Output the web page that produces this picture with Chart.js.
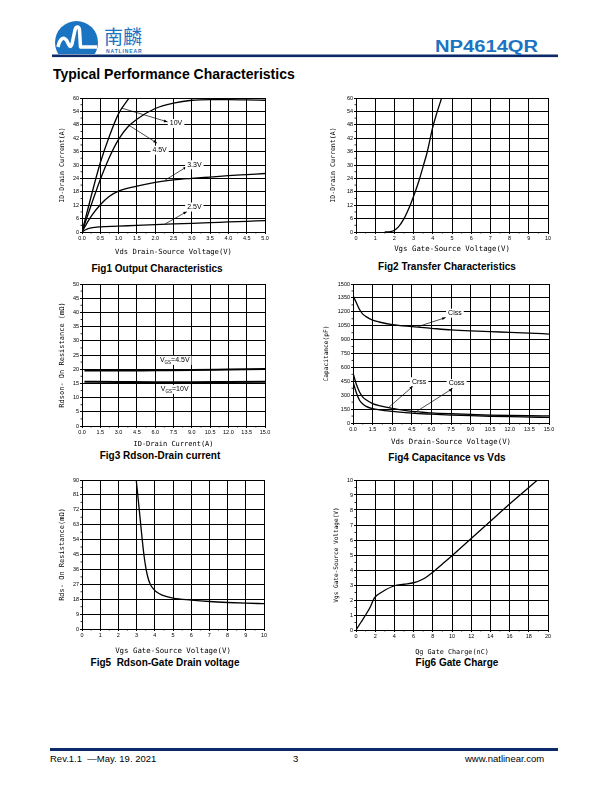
<!DOCTYPE html>
<html>
<head>
<meta charset="utf-8">
<script src="https://cdn.jsdelivr.net/npm/chart.js@4.4.1/dist/chart.umd.min.js"></script>
<style>
body { margin: 0; background: #fff; }
#page { position: relative; width: 612px; height: 792px; overflow: hidden; font-family: 'Liberation Sans', Arial, sans-serif; color: #000; }
.abs { position: absolute; white-space: nowrap; }
canvas { position: absolute; }
.cap { position: absolute; font-weight: bold; font-size: 10px; line-height: 12px; white-space: nowrap; transform: translateX(-50%); }
</style>
</head>
<body>
<div id="page">
  <svg class="abs" style="left:0;top:0" width="612" height="60">
    <defs><clipPath id="logoClip"><rect x="40" y="10" width="80" height="44"/></clipPath></defs>
    <circle cx="76.5" cy="42.5" r="21.5" fill="#1b74c2" clip-path="url(#logoClip)"/>
    <path d="M58 47 C60 38 64 36 67 41 C69 45 70 49 72 44 L75 30 C76 26 79 26 79.5 30 L80.5 47 L97 47" stroke="#fff" stroke-width="3.5" fill="none" stroke-linejoin="round"/>
    <rect x="52" y="54.5" width="506" height="2.6" fill="#0c2a6a"/>
  </svg>
  <div class="abs" style="left:104px;top:25px;font-family:'Noto Sans CJK SC';font-size:19px;line-height:22px;color:#1b74c2;">南麟</div>
  <div class="abs" style="left:106px;top:48px;font-size:5px;line-height:6px;font-weight:bold;letter-spacing:0.9px;color:#1b74c2;">NATLINEAR</div>
  <div class="abs" style="left:435px;top:38px;font-size:16px;line-height:18px;font-weight:bold;color:#1b74c2;transform:scaleX(1.26);transform-origin:left top;">NP4614QR</div>
  <div class="abs" style="left:53px;top:66px;font-size:14px;line-height:16px;font-weight:bold;">Typical Performance Characteristics</div>

  <div class="cap" style="left:157px;top:263px;">Fig1 Output Characteristics</div>
  <div class="cap" style="left:447px;top:261px;">Fig2 Transfer Characteristics</div>
  <div class="cap" style="left:160px;top:450px;">Fig3 Rdson-Drain current</div>
  <div class="cap" style="left:447px;top:452px;">Fig4 Capacitance vs Vds</div>
  <div class="cap" style="left:165px;top:657px;">Fig5&nbsp; Rdson-Gate Drain voltage</div>
  <div class="cap" style="left:457px;top:657px;">Fig6 Gate Charge</div>

  <div class="abs" style="left:50px;top:748px;width:508px;height:3px;background:#0c2a6a;"></div>
  <div class="abs" style="left:50px;top:753px;font-size:9.5px;line-height:11px;">Rev.1.1 &nbsp;—May. 19. 2021</div>
  <div class="abs" style="left:293px;top:753px;font-size:9.5px;line-height:11px;">3</div>
  <div class="abs" style="left:465px;top:753px;font-size:9.5px;line-height:11px;">www.natlinear.com</div>
</div>
<script>
// Fig1 output characteristics (Vds, Id) for each Vgs
const vds10 = [0, 0.25, 0.5, 0.75, 1.0, 1.2, 1.4];
const id10 = [0, 16, 31, 43, 53, 58, 62.5];
const vds45 = [0, 0.25, 0.5, 0.75, 1.0, 1.25, 1.5, 2.0, 2.5, 3.0, 3.5, 4.0, 4.5, 5.0];
const id45 = [0, 12, 23.5, 33.5, 41.5, 47, 50.5, 55.3, 57.7, 59, 59.3, 59.3, 59.2, 59];
const vds33 = [0, 0.1, 0.25, 0.5, 0.75, 1.0, 1.5, 2.0, 2.5, 3.0, 3.5, 4.0, 4.5, 5.0];
const id33 = [0, 3, 7, 12.2, 16, 18.3, 20.5, 22.2, 23.3, 24.0, 24.6, 25.2, 25.7, 26.2];
const vds25 = [0, 0.1, 0.25, 0.5, 1.0, 1.5, 2.0, 2.5, 3.0, 3.5, 4.0, 4.5, 5.0];
const id25 = [0, 1.0, 1.8, 2.3, 2.6, 3.0, 3.3, 3.6, 3.9, 4.2, 4.5, 4.8, 5.1];

// Fig2 transfer
const vgsT = [1.5, 1.8, 2.0, 2.2, 2.5, 2.8, 3.0, 3.3, 3.5, 3.7, 4.0, 4.2, 4.5];
const idT = [0, 0.2, 0.8, 2.2, 6, 11.5, 16, 23.5, 29.5, 35.5, 47, 53, 61];

// Fig3 Rdson vs Id
const idR = [0.2, 3, 6, 9, 12, 15];
const rds45 = [19.5, 19.5, 19.6, 19.7, 19.9, 20.1];
const rds10 = [15.6, 15.5, 15.4, 15.4, 15.5, 15.6];

// Fig4 capacitance
const vdsC = [0, 0.25, 0.5, 0.75, 1.0, 1.5, 2.0, 3.0, 4.5, 6.0, 7.5, 9.0, 10.5, 12.0, 13.5, 15.0];
const ciss = [1375, 1300, 1225, 1175, 1148, 1110, 1090, 1062, 1040, 1022, 1005, 994, 986, 978, 970, 960];
const crss = [540, 420, 335, 280, 250, 210, 188, 158, 125, 110, 100, 92, 86, 81, 78, 76];
const coss = [445, 330, 245, 205, 180, 155, 142, 125, 106, 95, 86, 79, 73, 68, 64, 60];

// Fig5 Rdson vs Vgs
const vgsR = [2.98, 3.1, 3.2, 3.3, 3.4, 3.5, 3.6, 3.75, 3.9, 4.1, 4.4, 5.0, 6.0, 7.0, 8.0, 9.0, 10.0];
const rdsV = [90, 77, 66, 55, 45, 37.5, 32, 27, 24.5, 22.3, 20.5, 18.7, 17.5, 16.6, 16.0, 15.6, 15.3];

// Fig6 gate charge
const qg = [0, 0.5, 1.0, 1.5, 1.8, 2.0, 2.5, 3.0, 4.0, 5.0, 6.0, 7.0, 8.0, 9.0, 10.0, 12.0, 14.0, 16.0, 18.0, 18.9];
const vgsQ = [0, 0.5, 1.0, 1.55, 2.0, 2.2, 2.45, 2.65, 2.95, 3.05, 3.15, 3.4, 3.85, 4.4, 4.95, 6.1, 7.25, 8.4, 9.5, 10];

// tick labels
const fig1XTicks = ['0.0','0.5','1.0','1.5','2.0','2.5','3.0','3.5','4.0','4.5','5.0'];
const fig1YTicks = ['0','6','12','18','24','30','36','42','48','54','60'];
const fig2XTicks = ['0','1','2','3','4','5','6','7','8','9','10'];
const fig2YTicks = fig1YTicks;
const fig3XTicks = ['0.0','1.5','3.0','4.5','6.0','7.5','9.0','10.5','12.0','13.5','15.0'];
const fig3YTicks = ['0','5','10','15','20','25','30','35','40','45','50'];
const fig4XTicks = fig3XTicks;
const fig4YTicks = ['0','150','300','450','600','750','900','1050','1200','1350','1500'];
const fig5XTicks = fig2XTicks;
const fig5YTicks = ['0','9','18','27','36','45','54','63','72','81','90'];
const fig6XTicks = ['0','2','4','6','8','10','12','14','16','18','20'];
const fig6YTicks = ['0','1','2','3','4','5','6','7','8','9','10'];

const page = document.getElementById('page');
const tickFont = { family: "'Liberation Sans', Arial, sans-serif", size: 5.5 };
const monoFamily = "'DejaVu Sans Mono', monospace";

function pts(xs, ys) { return xs.map((x, i) => ({ x: x, y: ys[i] })); }
function curve(xs, ys, w) {
  return { data: pts(xs, ys), showLine: true, borderColor: '#000', borderWidth: w || 1.3,
    pointRadius: 0, cubicInterpolationMode: 'monotone', fill: false };
}

const notesPlugin = {
  id: 'notes',
  afterDatasetsDraw(chart, args, o) {
    const ctx = chart.ctx, xs = chart.scales.x, ys = chart.scales.y;
    const px = v => xs.getPixelForValue(v), py = v => ys.getPixelForValue(v);
    const a = chart.chartArea;
    ctx.save();
    ctx.strokeStyle = '#000';
    ctx.fillStyle = '#000';
    ctx.lineWidth = 0.8;
    // minor ticks
    if (o.minorX) {
      for (let v = xs.min + o.minorX; v < xs.max; v += o.minorX * 2) {
        const x = px(v);
        ctx.beginPath(); ctx.moveTo(x, a.bottom); ctx.lineTo(x, a.bottom + 1.5); ctx.stroke();
      }
    }
    if (o.minorY) {
      for (let v = ys.min + o.minorY; v < ys.max; v += o.minorY * 2) {
        const y = py(v);
        ctx.beginPath(); ctx.moveTo(a.left, y); ctx.lineTo(a.left - 1.5, y); ctx.stroke();
      }
    }
    (o.items || []).forEach(n => {
      if (n.from) {
        const x1 = px(n.from[0]), y1 = py(n.from[1]), x2 = px(n.to[0]), y2 = py(n.to[1]);
        ctx.lineWidth = 0.7;
        ctx.beginPath(); ctx.moveTo(x1, y1); ctx.lineTo(x2, y2); ctx.stroke();
        const ang = Math.atan2(y2 - y1, x2 - x1);
        ctx.beginPath();
        ctx.moveTo(x2, y2);
        ctx.lineTo(x2 - 4 * Math.cos(ang - 0.35), y2 - 4 * Math.sin(ang - 0.35));
        ctx.lineTo(x2 - 4 * Math.cos(ang + 0.35), y2 - 4 * Math.sin(ang + 0.35));
        ctx.closePath(); ctx.fill();
      }
      const parts = n.parts || [[n.text, 0]];
      const big = "7px 'Liberation Sans', Arial, sans-serif", small = "4.5px 'Liberation Sans', Arial, sans-serif";
      let w = 0;
      parts.forEach(p => { ctx.font = p[1] ? small : big; w += ctx.measureText(p[0]).width; });
      const cx = px(n.at[0]), cy = py(n.at[1]);
      ctx.fillStyle = '#fff';
      ctx.fillRect(cx - w / 2 - 2, cy - 4.5, w + 4, 9);
      ctx.fillStyle = '#000';
      ctx.textBaseline = 'middle';
      ctx.textAlign = 'left';
      let x = cx - w / 2;
      parts.forEach(p => {
        ctx.font = p[1] ? small : big;
        ctx.fillText(p[0], x, cy + (p[1] ? 2.5 : 0));
        x += ctx.measureText(p[0]).width;
      });
    });
    ctx.restore();
  }
};

function axis(labels, title, size, fitFn) {
  return {
    type: 'linear',
    min: parseFloat(labels[0]),
    max: parseFloat(labels[labels.length - 1]),
    afterBuildTicks: s => { s.ticks = labels.map(t => ({ value: parseFloat(t) })); },
    ticks: { autoSkip: false, maxRotation: 0, padding: 1, color: '#000', font: tickFont,
      callback: (v, i) => labels[i] },
    grid: { color: '#000', lineWidth: 1, tickLength: 2, drawTicks: true },
    border: { color: '#000', width: 1 },
    title: { display: true, text: title, color: '#000', padding: 0, font: { family: monoFamily, size: size } },
    afterFit: fitFn
  };
}

function makeChart(box, o) {
  const padTop = 6;
  const yLh = o.yTitleSize * 1.2, xLh = o.xTitleSize * 1.2;
  const yw = Math.round(box.l - (o.yTitleX - yLh / 2));
  const xh = Math.round((o.xTitleY + xLh / 2) - box.b);
  const w = Math.ceil(yw + (box.r - box.l) + 12);
  const h = Math.round(padTop + (box.b - box.t) + xh);
  const padRight = w - yw - (box.r - box.l);
  const cv = document.createElement('canvas');
  cv.width = w; cv.height = h;
  cv.style.left = (box.l - yw) + 'px';
  cv.style.top = (box.t - padTop) + 'px';
  cv.style.width = w + 'px'; cv.style.height = h + 'px';
  page.appendChild(cv);
  return new Chart(cv, {
    type: 'scatter',
    data: { datasets: o.datasets },
    plugins: [notesPlugin],
    options: {
      responsive: false,
      animation: false,
      layout: { padding: { top: padTop, right: padRight, left: 0, bottom: 0 } },
      scales: {
        x: axis(o.xTicks, o.xTitle, o.xTitleSize, s => { s.height = xh; s.paddingLeft = 0; s.paddingRight = 0; }),
        y: axis(o.yTicks, o.yTitle, o.yTitleSize, s => { s.width = yw; s.paddingTop = 0; s.paddingBottom = 0; })
      },
      plugins: {
        legend: { display: false },
        tooltip: { enabled: false },
        notes: { items: o.notes || [], minorX: o.minorX, minorY: o.minorY }
      }
    }
  });
}

// Fig1
makeChart({ l: 82, t: 98, r: 265, b: 232 }, {
  xTicks: fig1XTicks, yTicks: fig1YTicks,
  xTitle: 'Vds Drain-Source Voltage(V)', xTitleSize: 7.2, xTitleY: 252,
  yTitle: 'ID-Drain Current(A)', yTitleSize: 6.6, yTitleX: 62,
  minorX: 0.25, minorY: 3,
  datasets: [curve(vds10, id10), curve(vds45, id45), curve(vds33, id33), curve(vds25, id25)],
  notes: [
    { text: '10V', at: [2.57, 48.6], from: [1.08, 55.5], to: [2.34, 49.3] },
    { text: '4.5V', at: [2.12, 36.6], from: [1.28, 47.8], to: [2.05, 39.8] },
    { text: '3.3V', at: [3.07, 30.1], from: [2.27, 23.2], to: [2.87, 29.3] },
    { text: '2.5V', at: [3.07, 11.2], from: [2.27, 3.6], to: [2.87, 9.2] }
  ]
});

// Fig2
makeChart({ l: 356, t: 98, r: 548, b: 232 }, {
  xTicks: fig2XTicks, yTicks: fig2YTicks,
  xTitle: 'Vgs Gate-Source Voltage(V)', xTitleSize: 7.4, xTitleY: 250,
  yTitle: 'ID-Drain Current(A)', yTitleSize: 6.6, yTitleX: 333,
  minorX: 0.5, minorY: 3,
  datasets: [curve(vgsT, idT)]
});

// Fig3
makeChart({ l: 82, t: 284, r: 265, b: 426 }, {
  xTicks: fig3XTicks, yTicks: fig3YTicks,
  xTitle: 'ID-Drain Current(A)', xTitleSize: 7, xTitleY: 444,
  yTitle: 'Rdson- On Resistance (mΩ)', yTitleSize: 7, yTitleX: 62,
  minorX: 0.75, minorY: 2.5,
  datasets: [curve(idR, rds45, 2), curve(idR, rds10, 2)],
  notes: [
    { parts: [['V', 0], ['GS', 1], ['=4.5V', 0]], at: [7.6, 23.1] },
    { parts: [['V', 0], ['GS', 1], ['=10V', 0]], at: [7.6, 12.9] }
  ]
});

// Fig4
makeChart({ l: 353, t: 284, r: 549, b: 423 }, {
  xTicks: fig4XTicks, yTicks: fig4YTicks,
  xTitle: 'Vds Drain-Source Voltage(V)', xTitleSize: 7.4, xTitleY: 443,
  yTitle: 'Capacitance(pF)', yTitleSize: 6.2, yTitleX: 327,
  minorX: 0.75, minorY: 75,
  datasets: [curve(vdsC, ciss), curve(vdsC, crss), curve(vdsC, coss)],
  notes: [
    { text: 'Ciss', at: [7.8, 1185], from: [5.0, 1041], to: [7.1, 1138] },
    { text: 'Crss', at: [5.06, 445], from: [2.69, 163], to: [4.6, 398] },
    { text: 'Coss', at: [7.93, 426], from: [4.6, 101], to: [7.62, 372] }
  ]
});

// Fig5
makeChart({ l: 82, t: 480, r: 264, b: 629 }, {
  xTicks: fig5XTicks, yTicks: fig5YTicks,
  xTitle: 'Vgs Gate-Source Voltage(V)', xTitleSize: 7.4, xTitleY: 652,
  yTitle: 'Rds- On Resistance(mΩ)', yTitleSize: 7, yTitleX: 62,
  minorX: 0.5, minorY: 4.5,
  datasets: [curve(vgsR, rdsV)]
});

// Fig6
makeChart({ l: 356, t: 480, r: 548, b: 630 }, {
  xTicks: fig6XTicks, yTicks: fig6YTicks,
  xTitle: 'Qg Gate Charge(nC)', xTitleSize: 6.8, xTitleY: 652,
  yTitle: 'Vgs Gate-Source Voltage(V)', yTitleSize: 6.1, yTitleX: 337,
  minorX: 1, minorY: 0.5,
  datasets: [curve(qg, vgsQ)]
});
</script>
</body>
</html>
